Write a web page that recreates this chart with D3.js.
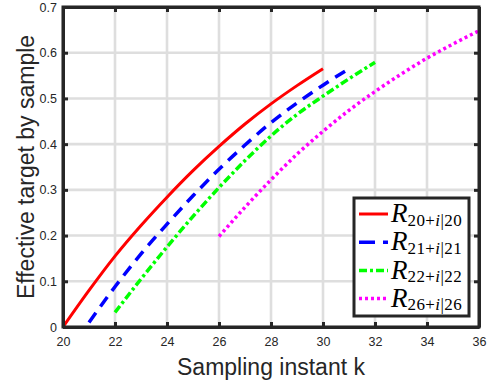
<!DOCTYPE html>
<html><head><meta charset="utf-8">
<script src="https://cdn.jsdelivr.net/npm/d3@7"></script>
<style>
html,body{margin:0;padding:0;background:#fff;}
svg{display:block;}
.sans{font-family:"Liberation Sans",Arial,Helvetica,sans-serif;fill:#262626;}
.serif{font-family:"Liberation Serif","Times New Roman",serif;fill:#000;}
</style></head><body>
<svg id="c" width="489" height="387"></svg>
<script>
// ---- data ----
const kRed = [20,21,22,23,24,25,26,27,28,29,30];
const vRed = [0,0.08,0.155,0.222,0.284,0.342,0.395,0.444,0.488,0.528,0.565];
const kBlue = [21,22,23,24,25,26,27,28,29,30,31];
const vBlue = [0.01,0.088,0.16,0.225,0.287,0.345,0.398,0.447,0.49,0.529,0.565];
const kGreen = [22,23,24,25,26,27,28,29,30,31,32];
const vGreen = [0.032,0.105,0.175,0.242,0.305,0.364,0.418,0.465,0.505,0.543,0.579];
const kMag = [26,27,28,29,30,31,32,33,34,35,36];
const vMag = [0.198,0.262,0.322,0.378,0.428,0.474,0.515,0.553,0.588,0.619,0.648];
const xTicks = [20,22,24,26,28,30,32,34,36];
const yTicks = [0,0.1,0.2,0.3,0.4,0.5,0.6,0.7];
const legendLabels = [["20","20"],["21","21"],["22","22"],["26","26"]];
const xTitle = "Sampling instant k";
const yTitle = "Effective target by sample";

const series = [
  {k:kRed, v:vRed, color:"#ff0000", dash:null, w:3},
  {k:kBlue, v:vBlue, color:"#0000ff", dash:"12,8", w:3.5, fitEnd:true},
  {k:kGreen, v:vGreen, color:"#00ff00", dash:"8,3,3,3", w:3.5},
  {k:kMag, v:vMag, color:"#ff00ff", dash:"3,3", w:3.5}
];

const svg = d3.select("#c");
const L=63, R=479, T=7, B=327;
const x = d3.scaleLinear().domain([20,36]).range([L,R]);
const y = d3.scaleLinear().domain([0,0.7]).range([B,T]);
const axisCol = "#262626";

// grid
const g = svg.append("g");
g.selectAll("line.gx").data(xTicks).enter().append("line")
  .attr("x1",d=>x(d)).attr("x2",d=>x(d)).attr("y1",T).attr("y2",B)
  .attr("stroke","#dedede").attr("stroke-width",2.6);
g.selectAll("line.gy").data(yTicks).enter().append("line")
  .attr("x1",L).attr("x2",R).attr("y1",d=>y(d)).attr("y2",d=>y(d))
  .attr("stroke","#dedede").attr("stroke-width",2.6);

// series
const line = d3.line().x(d=>x(d[0])).y(d=>y(d[1])).curve(d3.curveMonotoneX);
series.forEach(s=>{
  const pts = s.k.map((k,i)=>[k,s.v[i]]);
  const p = svg.append("path").attr("d",line(pts)).attr("fill","none")
    .attr("stroke",s.color).attr("stroke-width",s.w)
    .attr("stroke-dasharray",s.dash);
  if (s.fitEnd) {
    const len = p.node().getTotalLength();
    const n = Math.floor(len/20);
    const per = len/(n+0.85);
    p.attr("stroke-dasharray", `${(0.6*per).toFixed(2)},${(0.4*per).toFixed(2)}`);
  }
});

// axes
const tickLen = 5;
const xb = svg.append("g").attr("transform",`translate(0,${B})`)
  .call(d3.axisBottom(x).tickValues(xTicks).tickSizeInner(-tickLen).tickSizeOuter(0).tickPadding(10).tickFormat(d3.format("d")));
const xt = svg.append("g").attr("transform",`translate(0,${T})`)
  .call(d3.axisTop(x).tickValues(xTicks).tickSizeInner(-tickLen).tickSizeOuter(0).tickFormat(""));
const yl = svg.append("g").attr("transform",`translate(${L},0)`)
  .call(d3.axisLeft(y).tickValues(yTicks).tickSizeInner(-tickLen).tickSizeOuter(0).tickPadding(6).tickFormat(d=>d===0?"0":d3.format(".1f")(d)));
const yr = svg.append("g").attr("transform",`translate(${R},0)`)
  .call(d3.axisRight(y).tickValues(yTicks).tickSizeInner(-tickLen).tickSizeOuter(0).tickFormat(""));
[xb,xt,yl,yr].forEach(a=>{
  a.attr("font-family",null);
  a.select(".domain").attr("stroke",axisCol).attr("stroke-width",3);
  a.selectAll(".tick line").attr("stroke",axisCol).attr("stroke-width",3);
  a.selectAll("text").attr("class","sans").style("font-size","12.5px");
});
svg.append("rect").attr("x",L).attr("y",T).attr("width",R-L).attr("height",B-T)
  .attr("fill","none").attr("stroke",axisCol).attr("stroke-width",3);

// titles
svg.append("text").attr("class","sans").attr("x",(L+R)/2).attr("y",375).attr("text-anchor","middle")
  .style("font-size","23px").text(xTitle);
svg.append("text").attr("class","sans").attr("transform",`translate(34,${(T+B)/2}) rotate(-90)`)
  .attr("text-anchor","middle").style("font-size","23px").text(yTitle);

// legend
const lg = svg.append("g");
const lx=354, ly=198, lw=115, lh=118;
lg.append("rect").attr("x",lx).attr("y",ly).attr("width",lw).attr("height",lh)
  .attr("fill","#fff").attr("stroke",axisCol).attr("stroke-width",3);
const rowY = [214,242.3,270.6,298.6];
series.forEach((s,i)=>{
  lg.append("line").attr("x1",359).attr("x2",388).attr("y1",rowY[i]).attr("y2",rowY[i])
    .attr("stroke",s.color).attr("stroke-width",s.w).attr("stroke-dasharray",i===1?"16,8":s.dash);
  const t = lg.append("text").attr("class","serif").attr("x",391).attr("y",rowY[i]+8);
  t.append("tspan").style("font-size","27px").style("font-style","italic").text("R");
  const [a,b] = legendLabels[i];
  const sub = {"font-size":"17px","letter-spacing":"0.4px"};
  t.append("tspan").style("font-size","17px").style("letter-spacing","0.4px").attr("dy",3.5).text(a+"+");
  t.append("tspan").style("font-size","17px").style("letter-spacing","0.4px").style("font-style","italic").text("i");
  t.append("tspan").style("font-size","17px").style("letter-spacing","0.4px").text("|"+b);
});
</script>
</body></html>
